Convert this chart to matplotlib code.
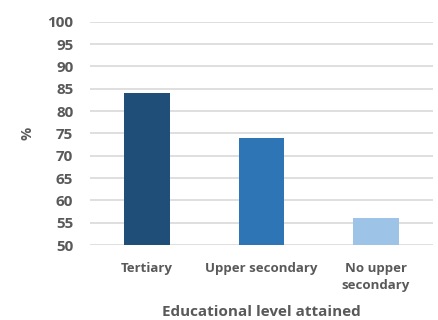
import matplotlib.pyplot as plt
import numpy as np

categories = ["Tertiary", "Upper secondary", "No upper\nsecondary"]
values = [84, 74, 56]
colors = ["#1F4E79", "#2E75B6", "#9DC3E6"]
yticks = list(range(50, 101, 5))

plt.rcParams["font.family"] = ["Open Sans", "DejaVu Sans"]
text_color = "#595959"

fig = plt.figure(figsize=(4.38, 3.2), dpi=100)
ax = fig.add_axes([0.2055, 0.234, 0.783, 0.698])

x = np.arange(len(categories))
ax.bar(x, [v - 50 for v in values], bottom=50, width=0.4, color=colors, zorder=3)

ax.set_xlim(-0.5, 2.5)
ax.set_ylim(50, 100)
ax.set_yticks(yticks)
ax.set_yticklabels([str(t) for t in yticks], fontsize=11, fontweight="bold", color=text_color)
ax.set_xticks(x)
ax.set_xticklabels(categories, fontsize=9.5, fontweight="bold", color=text_color, linespacing=1.45)
ax.tick_params(length=0, axis="y", pad=12)
ax.tick_params(length=0, axis="x", pad=12)
ax.grid(axis="y", color="#D9D9D9", linewidth=1.2, zorder=0)
for s in ax.spines.values():
    s.set_visible(False)

ax.set_ylabel("%", fontsize=10.5, fontweight="bold", color=text_color, labelpad=9)
ax.set_xlabel("Educational level attained", fontsize=11, fontweight="bold", color=text_color, labelpad=9)

fig.savefig("out.png", dpi=100)
